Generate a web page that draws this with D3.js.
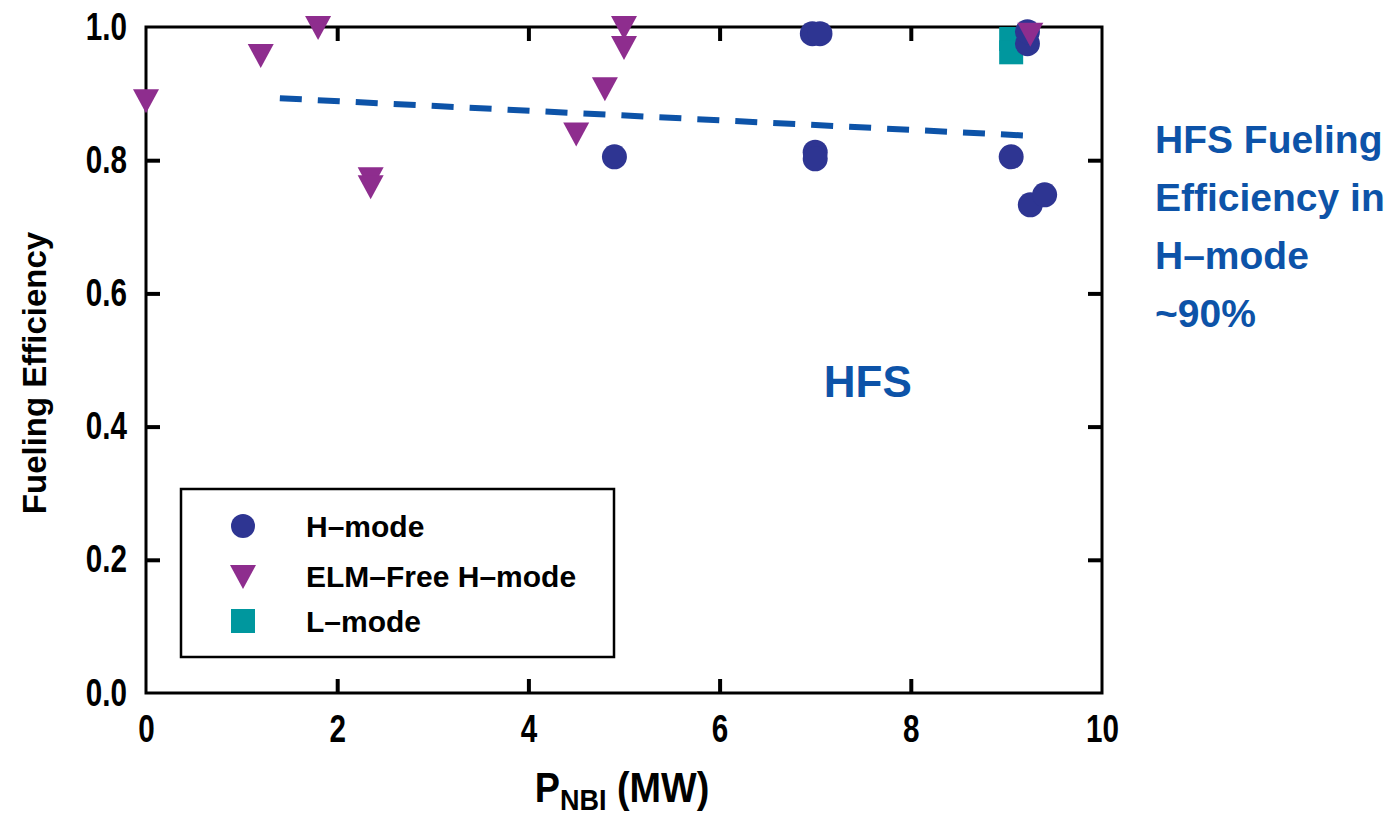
<!DOCTYPE html>
<html>
<head>
<meta charset="utf-8">
<script src="https://cdn.jsdelivr.net/npm/d3@7"></script>
<style>
  html, body { margin: 0; padding: 0; background: #fff; }
</style>
</head>
<body>
<div id="chart"></div>
<script>
// Data (P_NBI in MW, fueling efficiency)
var hmodeX = [4.9, 6.97, 7.05, 7.0, 7.0, 9.05, 9.25, 9.4, 9.22, 9.22];
var hmodeY = [0.805, 0.99, 0.99, 0.812, 0.802, 0.805, 0.733, 0.748, 0.975, 0.993];

var elmFreeX = [0.0, 1.2, 1.8, 2.35, 2.35, 4.5, 4.8, 5.0, 5.0, 9.25];
var elmFreeY = [0.89, 0.958, 1.0, 0.773, 0.761, 0.84, 0.908, 1.0, 0.97, 0.99];

var lmodeX = [9.05, 9.05];
var lmodeY = [0.982, 0.962];

var fitX = [1.4, 9.2];
var fitY = [0.893, 0.837];

var xTicks = [0, 2, 4, 6, 8, 10];
var yTicks = [0.0, 0.2, 0.4, 0.6, 0.8, 1.0];

var legendLabels = ["H\u2013mode", "ELM\u2013Free H\u2013mode", "L\u2013mode"];
var noteLines = ["HFS Fueling", "Efficiency in", "H\u2013mode", "~90%"];

var cHmode = "#2e3592", cElm = "#8e2d8e", cLmode = "#00979e", cBlue = "#0d53a8";

var width = 1391, height = 819;
var margin = { top: 27, right: 289, bottom: 126, left: 146 };
var innerW = width - margin.left - margin.right;
var innerH = height - margin.top - margin.bottom;

var svg = d3.select("#chart").append("svg")
  .attr("width", width).attr("height", height);

var g = svg.append("g")
  .attr("transform", "translate(" + margin.left + "," + margin.top + ")");

var x = d3.scaleLinear().domain([0, 10]).range([0, innerW]);
var y = d3.scaleLinear().domain([0, 1]).range([innerH, 0]);

var boldFont = "'Liberation Sans', Arial, sans-serif";
var squeeze = 0.78;   // tick labels in the reference are condensed

function styleAxis(sel) {
  sel.select(".domain").remove();
  sel.selectAll(".tick line").attr("stroke", "#000").attr("stroke-width", 4);
  sel.selectAll(".tick text").attr("font-family", boldFont).attr("font-weight", 700)
    .attr("font-size", 38).attr("fill", "#000");
}
function dropEnds(lo, hi) {
  return function (gg) {
    gg.selectAll(".tick line").filter(function (d) { return d === lo || d === hi; }).remove();
  };
}

// Axes with inward ticks on all four sides
g.append("g").attr("transform", "translate(0," + innerH + ")")
  .call(d3.axisBottom(x).tickValues(xTicks).tickSize(-14).tickPadding(22).tickFormat(d3.format("d")))
  .call(styleAxis)
  .call(dropEnds(0, 10))
  .call(function (gg) { gg.selectAll(".tick text").attr("transform", "scale(" + squeeze + ",1)"); });

g.append("g")
  .call(d3.axisTop(x).tickValues(xTicks).tickSize(-14).tickFormat(""))
  .call(styleAxis)
  .call(dropEnds(0, 10));

g.append("g")
  .call(d3.axisLeft(y).tickValues(yTicks).tickSize(-14).tickPadding(18).tickFormat(d3.format(".1f")))
  .call(styleAxis)
  .call(dropEnds(0, 1))
  .call(function (gg) {
    gg.selectAll(".tick text").attr("x", -19 / squeeze).attr("transform", "scale(" + squeeze + ",1)");
  });

g.append("g").attr("transform", "translate(" + innerW + ",0)")
  .call(d3.axisRight(y).tickValues(yTicks).tickSize(-14).tickFormat(""))
  .call(styleAxis)
  .call(dropEnds(0, 1));

// Frame
g.append("rect")
  .attr("x", 0).attr("y", 0).attr("width", innerW).attr("height", innerH)
  .attr("fill", "none").attr("stroke", "#000").attr("stroke-width", 3);

// Dashed fit line
g.append("line")
  .attr("x1", x(fitX[0])).attr("y1", y(fitY[0]))
  .attr("x2", x(fitX[1])).attr("y2", y(fitY[1]))
  .attr("stroke", cBlue).attr("stroke-width", 6)
  .attr("stroke-dasharray", "22,16");

var hmode = hmodeX.map(function (v, i) { return { x: v, y: hmodeY[i] }; });
var elm = elmFreeX.map(function (v, i) { return { x: v, y: elmFreeY[i] }; });
var lmode = lmodeX.map(function (v, i) { return { x: v, y: lmodeY[i] }; });

var triPath = "M-13,-11L13,-11L0,13Z";

// L-mode squares
g.selectAll(".lmode").data(lmode).join("rect")
  .attr("class", "lmode")
  .attr("x", function (d) { return x(d.x) - 12; })
  .attr("y", function (d) { return y(d.y) - 12; })
  .attr("width", 24).attr("height", 24)
  .attr("fill", cLmode);

// H-mode circles
g.selectAll(".hmode").data(hmode).join("circle")
  .attr("class", "hmode")
  .attr("cx", function (d) { return x(d.x); })
  .attr("cy", function (d) { return y(d.y); })
  .attr("r", 12.5)
  .attr("fill", cHmode);

// ELM-free triangles
g.selectAll(".elm").data(elm).join("path")
  .attr("class", "elm")
  .attr("transform", function (d) { return "translate(" + x(d.x) + "," + y(d.y) + ")"; })
  .attr("d", triPath)
  .attr("fill", cElm);

// Annotation inside plot
g.append("text")
  .attr("x", x(7.55)).attr("y", y(0.445))
  .attr("text-anchor", "middle")
  .attr("font-family", boldFont).attr("font-weight", 700).attr("font-size", 44)
  .attr("fill", cBlue).text("HFS");

// Legend
var lg = g.append("g").attr("transform", "translate(" + (181 - margin.left) + "," + (489 - margin.top) + ")");
lg.append("rect").attr("width", 433).attr("height", 168)
  .attr("fill", "#fff").attr("stroke", "#000").attr("stroke-width", 2.5);
var rowsY = [37, 87, 132];
lg.append("circle").attr("cx", 62).attr("cy", rowsY[0]).attr("r", 12).attr("fill", cHmode);
lg.append("path").attr("transform", "translate(62," + rowsY[1] + ")").attr("d", triPath).attr("fill", cElm);
lg.append("rect").attr("x", 50).attr("y", rowsY[2] - 12).attr("width", 24).attr("height", 24).attr("fill", cLmode);
lg.selectAll(".leg-text").data(legendLabels).join("text")
  .attr("class", "leg-text")
  .attr("x", 125).attr("y", function (d, i) { return rowsY[i] + 11; })
  .attr("font-family", boldFont).attr("font-weight", 700).attr("font-size", 30)
  .attr("fill", "#000").text(function (d) { return d; });

// Axis titles
svg.append("text")
  .attr("transform", "translate(46," + (margin.top + innerH / 2 + 13) + ") rotate(-90)")
  .attr("text-anchor", "middle")
  .attr("font-family", boldFont).attr("font-weight", 700).attr("font-size", 33)
  .attr("fill", "#000").text("Fueling Efficiency");

var xt = svg.append("text")
  .attr("transform", "translate(" + (margin.left + innerW / 2 - 2) + ",802) scale(0.9,1)")
  .attr("text-anchor", "middle")
  .attr("font-family", boldFont).attr("font-weight", 700).attr("font-size", 42)
  .attr("fill", "#000");
xt.append("tspan").text("P");
xt.append("tspan").attr("dy", 8).attr("font-size", 30).text("NBI");
xt.append("tspan").attr("dy", -8).text(" (MW)");

// Right-side note
svg.append("g").selectAll("text").data(noteLines).join("text")
  .attr("x", 1155).attr("y", function (d, i) { return 153 + i * 58; })
  .attr("font-family", boldFont).attr("font-weight", 700).attr("font-size", 39)
  .attr("fill", cBlue).text(function (d) { return d; });
</script>
</body>
</html>
